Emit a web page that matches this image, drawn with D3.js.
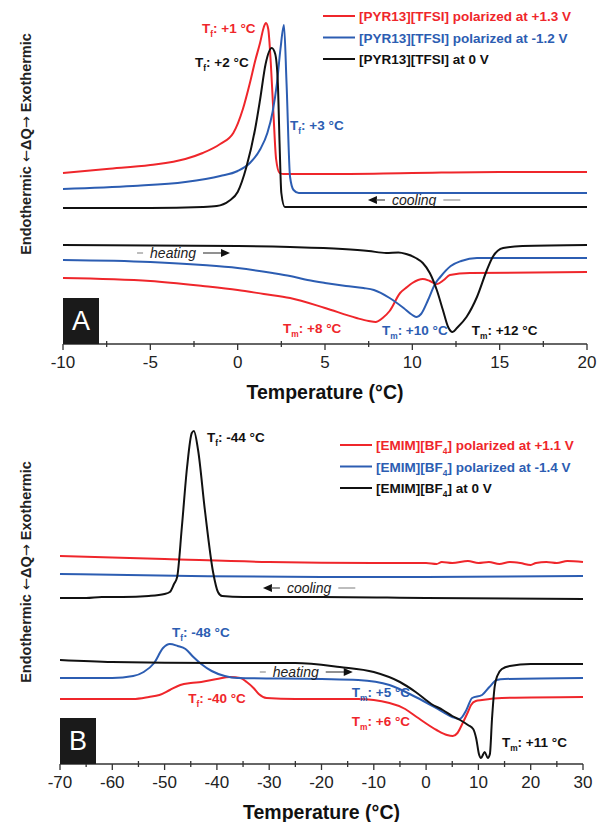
<!DOCTYPE html>
<html>
<head>
<meta charset="utf-8">
<title>DSC of polarized ionic liquids</title>
<script src="https://d3js.org/d3.v7.min.js"></script>
<style>
body { margin: 0; background: #fff; font-family: 'Liberation Sans', Arial, sans-serif; }
svg { display: block; }
</style>
</head>
<body>
<svg width="597" height="822" id="chart"></svg>
<script>
// heat flow values are arbitrary units (exo up), temperature in °C

// ---- panel A : [PYR13][TFSI]
var ticksA = [-10, -5, 0, 5, 10, 15, 20];
var coolRedA = [[-10,171],[-7.5,175],[-5,179],[-3,185],[-2,191],[-1,200],[-0.25,211],[0.3,235],[0.7,261],[1.0,283],[1.28,301],[1.5,317],[1.62,321],[1.75,315],[1.9,280],[2.05,230],[2.2,185],[2.4,171],[2.6,170],[5,170],[10,171],[15,172],[20,172]];
var coolBlueA = [[-10,155],[-6,158],[-3,162],[-1,168],[0,173],[0.7,181],[1.3,195],[1.7,211],[2.0,232],[2.25,261],[2.45,295],[2.65,319],[2.8,260],[3.0,167],[3.2,154],[3.5,151],[10,151],[20,151]];
var coolBlackA = [[-10,136],[-5,136],[-2,137],[-1.2,138],[-0.5,143],[0,152],[0.5,177],[1.0,215],[1.28,244],[1.6,280],[1.95,296],[2.15,290],[2.3,261],[2.4,200],[2.5,151],[2.7,137],[5,137],[10,137],[20,137]];
var heatRedA = [[-10,66],[-5,63],[-2,58],[0,54],[1.5,50],[3,46],[5,36],[6.8,26],[7.5,23],[7.9,22],[8.3,26],[8.7,33],[9.3,51],[9.7,57],[10.0,61],[10.6,65],[11.0,63],[11.4,60],[11.8,64],[12.15,69],[13.3,71],[20,72]];
var heatBlueA = [[-10,84],[-5,82],[-2,79],[0,76],[2,71],[3,68],[4,64],[5,61],[6.2,58],[7.2,56],[7.8,54],[8.7,46],[9.5,36],[10.0,29],[10.25,27],[10.5,30],[10.9,44],[11.3,60],[11.6,67],[12.2,78],[12.8,83],[13.7,86],[20,86]];
var heatBlackA = [[-10,99],[-5,98.5],[0,98],[3,97],[6,95],[7.5,93],[8.5,91],[9.2,91.5],[9.65,90],[10.2,86],[10.6,81],[11.0,71],[11.4,54],[11.75,34],[12.05,17],[12.3,12],[12.55,16],[13.1,27],[13.7,47],[14.27,74],[14.6,87],[15.2,96],[16.3,98],[20,99]];
var legendA = ["[PYR13][TFSI] polarized at +1.3 V", "[PYR13][TFSI] polarized at -1.2 V", "[PYR13][TFSI] at 0 V"];
// label text, colour index, temperature, heat flow
var notesA = [["T_{f}: +1 °C",0,-2.04,311],["T_{f}: +2 °C",2,-2.44,277],["T_{f}: +3 °C",1,3.0,214],
  ["T_{m}: +8 °C",0,2.6,11],["T_{m}: +10 °C",1,8.26,9],["T_{m}: +12 °C",2,13.4,9]];

// ---- panel B : [EMIM][BF4]
var ticksB = [-70, -60, -50, -40, -30, -20, -10, 0, 10, 20, 30];
var coolRedB = [[-70,208],[-50,205],[-30,202],[-10,201],[0,201],[2,200],[3,202],[5,201],[8,203],[10,201],[12,202],[14,200],[16,202],[18,201],[20,199],[21,201],[23,202],[25,201],[27,203],[30,202]];
var coolBlueB = [[-70,190],[-45,188],[-20,187],[0,187],[30,188]];
var coolBlackB = [[-70,166],[-65,166],[-62,167],[-58,167],[-53,168],[-50,170],[-49,172],[-48.2,180],[-47.6,187],[-46.7,237],[-45.7,297],[-44.8,331],[-44.4,333],[-43.6,314],[-42.3,254],[-40.7,191],[-39.8,172],[-39,168],[-35,167],[-20,167],[0,166],[30,165]];
var heatRedB = [[-70,65],[-56,65],[-53,67],[-51,69],[-49,74],[-47,79],[-45,81],[-43,82],[-40,85],[-37.5,87],[-35.5,86],[-34.3,82],[-33,76],[-32,70],[-30.5,66],[-25,65],[-13,65],[-7,61],[-4,55],[-1.8,47],[2,34],[4,29],[5.1,28],[6,31],[7,41],[8,52],[8.6,59],[9.5,63],[10.7,64],[14.5,66],[30,67]];
var heatBlueB = [[-70,86],[-60,86],[-56,88],[-54,92],[-52,101],[-50.3,116],[-49,120],[-47.5,118],[-46,115],[-44.5,107],[-43,100],[-41,93],[-38.5,88],[-36,86],[-20,85],[-13,84],[-7,79],[-2,67],[2.6,54],[5,47],[6.4,45],[7.7,54],[8.8,66],[10.7,69],[12.1,77],[13.5,84],[15,85],[30,86]];
var heatBlackB = [[-70,104],[-60,102],[-40,101],[-25,101],[-16.5,97],[-10,92],[-5,82],[-2,72],[1,60],[3.2,54],[5,48],[6.5,44],[8,39],[9,35],[9.6,25],[10.1,10],[10.5,6],[11.2,12],[11.8,6],[12.2,10],[12.6,45],[13.1,77],[13.6,88],[14.5,95],[16,98],[20,100],[30,100]];
var legendB = ["[EMIM][BF_{4}] polarized at +1.1 V", "[EMIM][BF_{4}] polarized at -1.4 V", "[EMIM][BF_{4}] at 0 V"];
var notesB = [["T_{f}: -44 °C",2,-41.9,322],["T_{f}: -48 °C",1,-48.6,127],["T_{f}: -40 °C",0,-45.5,61],
  ["T_{m}: +5 °C",1,-14.2,67],["T_{m}: +6 °C",0,-14.2,38],["T_{m}: +11 °C",2,14.5,17]];

var colors = ["#ef262b", "#2c5db2", "#111111"];

var svg = d3.select("#chart");

// writes "abc_{x}def" with x as subscript
function richText(sel, str, size) {
  var parts = str.split(/_\{([^}]*)\}/);
  parts.forEach(function (p, i) {
    if (p === "") return;
    if (i % 2 == 1) {
      sel.append("tspan").attr("font-size", size * 0.62).attr("dy", size * 0.3).text(p);
    } else {
      var t = sel.append("tspan").text(p);
      if (i > 0) t.attr("dy", -size * 0.3);
    }
  });
}

function drawPanel(p) {
  var x = d3.scaleLinear().domain(p.xDomain).range([p.left, p.right]);
  var y = d3.scaleLinear().domain([0, p.yMax]).range([p.bottom, p.top]);
  var g = svg.append("g");

  var line = d3.line()
    .x(function (d) { return x(d[0]); })
    .y(function (d) { return y(d[1]); })
    .curve(d3.curveMonotoneX);

  // axis (bottom only)
  var ax = g.append("g").attr("transform", "translate(0," + p.bottom + ")");
  ax.append("line").attr("x1", p.left).attr("x2", p.right)
    .attr("stroke", "#333").attr("stroke-width", 1.5);
  var step = p.ticks[1] - p.ticks[0];
  p.ticks.forEach(function (t, i) {
    ax.append("line").attr("x1", x(t)).attr("x2", x(t)).attr("y1", 0).attr("y2", 6)
      .attr("stroke", "#333").attr("stroke-width", 1.3);
    ax.append("text").attr("x", x(t)).attr("y", 24).attr("text-anchor", "middle")
      .attr("font-size", 17).attr("fill", "#222").text(t);
    if (i < p.ticks.length - 1) {
      var m = t + step / 2;
      ax.append("line").attr("x1", x(m)).attr("x2", x(m)).attr("y1", -3).attr("y2", 3)
        .attr("stroke", "#333").attr("stroke-width", 1.3);
    }
  });
  g.append("text").attr("x", (p.left + p.right) / 2).attr("y", p.bottom + p.titleDy)
    .attr("text-anchor", "middle").attr("font-size", 19.5).attr("font-weight", "bold")
    .attr("fill", "#111").text("Temperature (°C)");

  var yl = g.append("text")
    .attr("transform", "translate(26," + p.yLabelMid + ") rotate(-90)")
    .attr("text-anchor", "middle").attr("dy", "0.36em")
    .attr("font-size", 14.5).attr("font-weight", "bold").attr("fill", "#222");
  yl.append("tspan").text("Endothermic ");
  yl.append("tspan").attr("font-family", "DejaVu Sans").attr("font-weight", "normal").text("\u2190");
  yl.append("tspan").text("\u0394Q");
  yl.append("tspan").attr("font-family", "DejaVu Sans").attr("font-weight", "normal").text("\u2192");
  yl.append("tspan").text(" Exothermic");

  // curves
  p.series.forEach(function (s) {
    g.append("path").attr("d", line(s.data)).attr("fill", "none")
      .attr("stroke", colors[s.c]).attr("stroke-width", 2)
      .attr("stroke-linejoin", "round");
  });

  // panel letter
  g.append("rect").attr("x", p.left).attr("y", p.bottom - 46).attr("width", 36).attr("height", 46)
    .attr("fill", "#1a1a1a");
  g.append("text").attr("x", p.left + 18).attr("y", p.bottom - 14).attr("text-anchor", "middle")
    .attr("font-size", 27).attr("fill", "#fff").text(p.letter);

  // legend
  p.legend.forEach(function (lab, i) {
    var ly = p.legendTop + i * p.legendGap;
    g.append("line").attr("x1", p.legendX).attr("x2", p.legendX + 32).attr("y1", ly).attr("y2", ly)
      .attr("stroke", colors[i]).attr("stroke-width", 2);
    var t = g.append("text").attr("x", p.legendX + 36).attr("y", ly + 5)
      .attr("font-size", 13.5).attr("font-weight", "bold").attr("fill", colors[i]);
    richText(t, lab, 13.5);
  });

  // peak labels
  p.notes.forEach(function (n) {
    var t = g.append("text").attr("x", x(n[2])).attr("y", y(n[3]))
      .attr("font-size", 13.5).attr("font-weight", "bold").attr("fill", colors[n[1]]);
    richText(t, n[0], 13.5);
  });

  // cooling / heating arrows
  var c = g.append("g").attr("transform", "translate(" + x(p.cooling[0]) + "," + y(p.cooling[1]) + ")");
  c.append("path").attr("d", "M0,0 L9,-4 L9,4 Z").attr("fill", "#111");
  c.append("line").attr("x1", 8).attr("x2", 17).attr("stroke", "#555").attr("stroke-width", 1.3);
  var ct = c.append("text").attr("x", 24).attr("y", 5).attr("font-size", 14).attr("font-style", "italic")
    .attr("fill", "#222").text("cooling");
  var cw = ct.node().getComputedTextLength();
  c.append("line").attr("x1", 24 + cw + 7).attr("x2", 24 + cw + 24).attr("stroke", "#999").attr("stroke-width", 1.3);

  var h = g.append("g").attr("transform", "translate(" + x(p.heating[0]) + "," + y(p.heating[1]) + ")");
  h.append("line").attr("x1", 0).attr("x2", 6).attr("stroke", "#999").attr("stroke-width", 1.3);
  var ht = h.append("text").attr("x", 13).attr("y", 5).attr("font-size", 14).attr("font-style", "italic")
    .attr("fill", "#222").text("heating");
  var hw = ht.node().getComputedTextLength();
  h.append("line").attr("x1", 13 + hw + 7).attr("x2", 13 + hw + 27).attr("stroke", "#555").attr("stroke-width", 1.3);
  h.append("path").attr("d", "M" + (13 + hw + 34) + ",0 L" + (13 + hw + 25) + ",-4 L" + (13 + hw + 25) + ",4 Z")
    .attr("fill", "#111");
}

drawPanel({
  xDomain: [-10, 20], left: 63, right: 587, bottom: 344, top: 14, yMax: 330,
  ticks: ticksA, titleDy: 55, yLabelMid: 144, letter: "A",
  series: [{data: coolRedA, c: 0}, {data: coolBlueA, c: 1}, {data: coolBlackA, c: 2},
           {data: heatRedA, c: 0}, {data: heatBlueA, c: 1}, {data: heatBlackA, c: 2}],
  legend: legendA, legendX: 323, legendTop: 16, legendGap: 21.5,
  notes: notesA, cooling: [7.46, 144], heating: [-5.76, 91]
});

drawPanel({
  xDomain: [-70, 30], left: 60, right: 583, bottom: 764, top: 424, yMax: 340,
  ticks: ticksB, titleDy: 55, yLabelMid: 572, letter: "B",
  series: [{data: coolRedB, c: 0}, {data: coolBlueB, c: 1}, {data: coolBlackB, c: 2},
           {data: heatRedB, c: 0}, {data: heatBlueB, c: 1}, {data: heatBlackB, c: 2}],
  legend: legendB, legendX: 340, legendTop: 445, legendGap: 21.5,
  notes: notesB, cooling: [-31.2, 176], heating: [-31.8, 92]
});
</script>
</body>
</html>
